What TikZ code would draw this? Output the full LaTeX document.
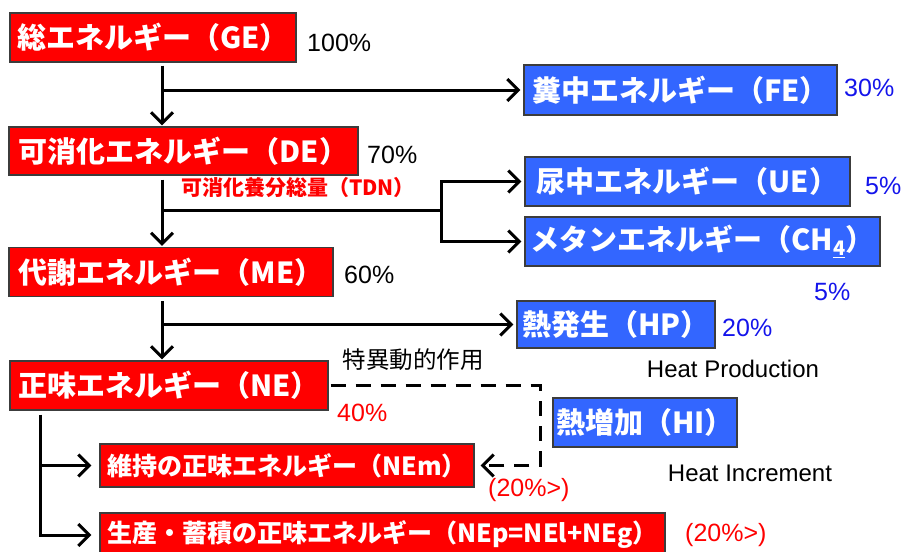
\documentclass[tikz,border=0pt]{standalone}
\usepackage{fontspec}
\setmainfont{Noto Sans CJK JP}
\newfontfamily\arial{Liberation Sans}
\usetikzlibrary{arrows.meta}
\definecolor{boxred}{RGB}{255,0,0}
\definecolor{boxblue}{RGB}{51,102,255}
\definecolor{edgegray}{RGB}{60,60,60}
\definecolor{txtblue}{RGB}{20,20,235}
\tikzset{
  ebox/.style={draw=edgegray, line width=1.2pt, text=white, inner sep=0pt,
    font=\bfseries\fontsize{29}{29}\selectfont},
  rbox/.style={ebox, fill=boxred},
  bbox/.style={ebox, fill=boxblue},
  sbox/.style={rbox, font=\bfseries\fontsize{25}{25}\selectfont},
  conn/.style={line width=3pt, black},
  arr/.style={conn, -{Straight Barb[length=11pt,width=22pt]}},
  pct/.style={inner sep=0pt, anchor=west, font=\arial\fontsize{25}{25}\selectfont},
  note/.style={inner sep=0pt, font=\arial\fontsize{24}{24}\selectfont},
}
\begin{document}
\begin{tikzpicture}[x=1pt,y=-1pt]
\useasboundingbox (0,0) rectangle (906,552);
% boxes
\node[rbox, minimum width=286pt, minimum height=49pt] (ge) at (153,37.5) {総エネルギー（GE）};
\node[rbox, minimum width=349pt, minimum height=48pt] (de) at (183.5,151) {可消化エネルギー（DE）};
\node[rbox, minimum width=324pt, minimum height=49pt] (me) at (171,272) {代謝エネルギー（ME）};
\node[rbox, minimum width=318pt, minimum height=49pt] (ne) at (169,385.5) {正味エネルギー（NE）};
\node[sbox, minimum width=374pt, minimum height=43pt] (nem) at (287,465.5) {維持の正味エネルギー（NEm）};
\node[sbox, minimum width=565pt, minimum height=44pt] (nep) at (382.5,535) {生産・蓄積の正味エネルギー（NEp=NEl+NEg）};
\node[bbox, minimum width=313pt, minimum height=50pt] (fe) at (680.5,90) {糞中エネルギー（FE）};
\node[bbox, minimum width=325pt, minimum height=49pt] (ue) at (687.5,181.5) {尿中エネルギー（UE）};
\node[bbox, minimum width=355pt, minimum height=49pt] (ch) at (702.5,241.5) {メタンエネルギー（CH\raisebox{-5pt}{\fontsize{20}{20}\selectfont\underline{4}}）};
\node[bbox, minimum width=198pt, minimum height=47pt] (hp) at (616,324.5) {熱発生（HP）};
\node[bbox, minimum width=184pt, minimum height=49pt] (hi) at (645,422.5) {熱増加（HI）};
% helper coordinates
\coordinate (t1) at (162,0);
\coordinate (t2) at (40,0);
\coordinate (j) at (441,210);
\coordinate (dd) at (540,0);
% GE -> DE, FE
\draw[arr, shorten <=3pt, shorten >=1pt] (ge.south -| t1) -- (de.north -| t1);
\draw[arr, shorten >=3pt] (fe.west -| t1) -- (fe.west);
% DE -> ME, UE, CH4
\draw[arr, shorten <=4pt, shorten >=1pt] (de.south -| t1) -- (me.north -| t1);
\draw[conn] (j -| t1) -- (j);
\draw[arr, shorten >=3pt] (j) |- (ue.west);
\draw[arr, shorten >=3pt] (j) |- (ch.west);
\node[inner sep=0pt, text=boxred, font=\bfseries\fontsize{21}{21}\selectfont] (tdn) at (298,188) {可消化養分総量（TDN）};
% ME -> NE, HP
\draw[arr, shorten <=4pt, shorten >=1pt] (me.south -| t1) -- (ne.north -| t1);
\draw[arr, shorten >=3pt] (hp.west -| t1) -- (hp.west);
% NE dashed -> NEm
\draw[arr, dash pattern=on 15pt off 10pt, shorten <=2pt, shorten >=6pt] (ne.east) -| (dd |- nem.east) -- (nem.east);
\node[inner sep=0pt, font=\fontsize{23.5}{23.5}\selectfont] (sda) at (413,360) {特異動的作用};
% NE -> NEm, NEp
\draw[arr, shorten <=4pt, shorten >=8pt] (ne.south -| t2) |- (nep.west);
\draw[arr, shorten >=8pt] (nem.west -| t2) -- (nem.west);
% labels
\node[pct] (p100) at (307,43) {100\%};
\node[pct] (p70) at (367,155) {70\%};
\node[pct] (p60) at (344,275) {60\%};
\node[pct, text=txtblue] (p30) at (844,88) {30\%};
\node[pct, text=txtblue] (p5a) at (865,186) {5\%};
\node[pct, text=txtblue] (p5b) at (814,292) {5\%};
\node[pct, text=txtblue] (p20) at (722,328) {20\%};
\node[pct, text=boxred] (p40) at (337,413) {40\%};
\node[pct, text=boxred] (pm) at (488,490) {(20\%>)};
\node[pct, text=boxred] (pp) at (685,535) {(20\%>)};
\node[note] (hpl) at (733,369) {Heat Production};
\node[note] (hil) at (750,473) {Heat Increment};
\end{tikzpicture}
\end{document}
